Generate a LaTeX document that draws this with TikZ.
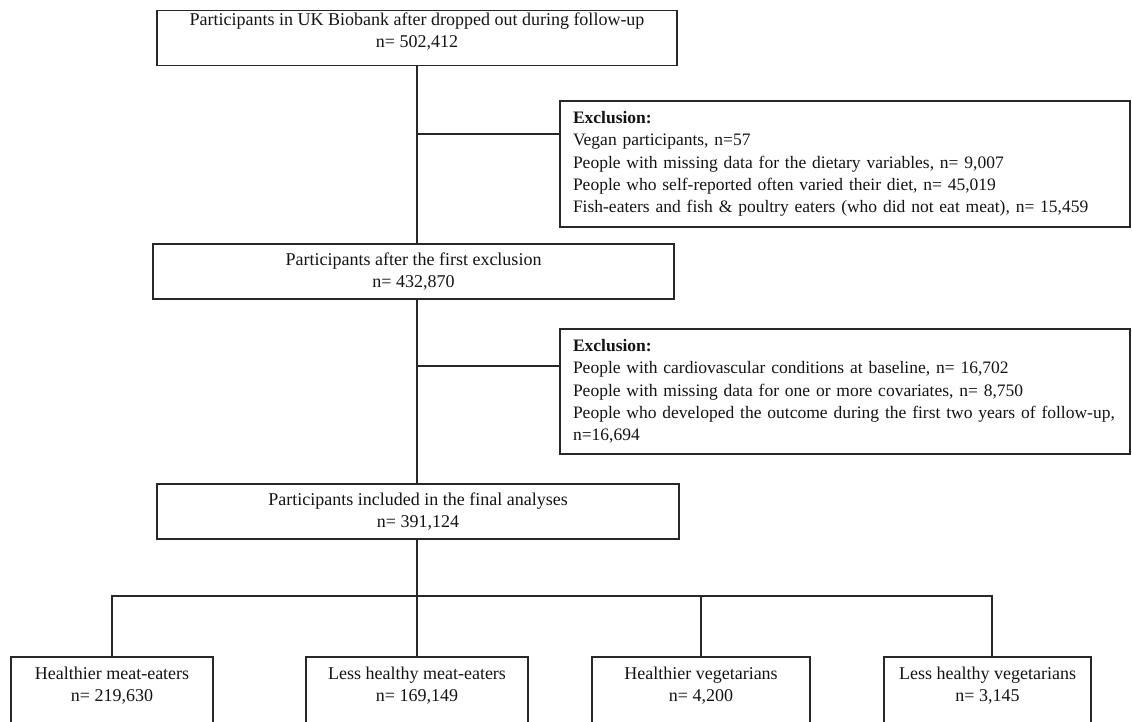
\documentclass[tikz,border=0pt]{standalone}
\usepackage{fontspec}
\setmainfont{Liberation Serif}
\definecolor{linec}{RGB}{40,40,40}
\definecolor{txtc}{RGB}{20,20,20}
\begin{document}
\begin{tikzpicture}[x=1pt,y=-1pt,
  box/.style={draw=linec, line width=1.3pt, rectangle, inner sep=0pt},
  ctxt/.style={font=\fontsize{18}{22}\selectfont, text=txtc, inner sep=0pt, align=center},
  exbox/.style={box, font=\fontsize{17.5}{22.3}\selectfont, text=txtc, align=left,
     inner xsep=13pt, inner ysep=0pt, text width=544pt, minimum width=570pt},
  conn/.style={draw=linec, line width=1.3pt}]
\useasboundingbox (0,0) rectangle (1132,722);
\clip (0,0) rectangle (1132,722);
\fill[white] (0,0) rectangle (1132,722);

% spine boxes
\node[box, minimum width=520pt, minimum height=55pt] (top) at (417,38.3) {};
\node[ctxt] (toptxt) at (417,31.7) {Participants in UK Biobank after dropped out during follow-up\\n= 502,412};

\node[box, ctxt, minimum width=521pt, minimum height=55pt] (box2) at (413.5,271.5)
  {Participants after the first exclusion\\n= 432,870};

\node[box, ctxt, minimum width=522pt, minimum height=55pt] (box3) at (418,511.5)
  {Participants included in the final analyses\\n= 391,124};

% exclusion boxes
\node[exbox, minimum height=126pt] (ex1) at (845,164)
  {\textbf{Exclusion:}\\
   \mbox{Vegan participants, n=57}\\
   \mbox{People with missing data for the dietary variables, n= 9,007}\\
   \mbox{People who self-reported often varied their diet, n= 45,019}\\
   \mbox{Fish-eaters and fish \& poultry eaters (who did not eat meat), n= 15,459}};

\node[exbox, minimum height=125pt] (ex2) at (845,391.5)
  {\textbf{Exclusion:}\\
   \mbox{People with cardiovascular conditions at baseline, n= 16,702}\\
   \mbox{People with missing data for one or more covariates, n= 8,750}\\
   \mbox{People who developed the outcome during the first two years of follow-up,}\\
   \mbox{n=16,694}};

% bottom boxes (cut off by the picture's lower edge)
\node[box, minimum width=202pt, minimum height=100pt] (bA) at (112,707) {};
\node[box, minimum width=222pt, minimum height=100pt] (bB) at (417,707) {};
\node[box, minimum width=218pt, minimum height=100pt] (bC) at (701,707) {};
\node[box, minimum width=207pt, minimum height=100pt] (bD) at (987.5,707) {};
\node[ctxt] (tA) at (bA.north |- 0,686) {Healthier meat-eaters\\n= 219,630};
\node[ctxt] (tB) at (bB.north |- 0,686) {Less healthy meat-eaters\\n= 169,149};
\node[ctxt] (tC) at (bC.north |- 0,686) {Healthier vegetarians\\n= 4,200};
\node[ctxt] (tD) at (bD.north |- 0,686) {Less healthy vegetarians\\n= 3,145};

% connectors
\coordinate (c1) at (top.south |- 0,134);
\coordinate (c2) at (top.south |- 0,366);
\coordinate (br) at (top.south |- 0,596);
\draw[conn] (top.south) -- (top.south |- box2.north);
\draw[conn] (c1) -- (c1 -| ex1.west);
\draw[conn] (box2.south -| top.south) -- (top.south |- box3.north);
\draw[conn] (c2) -- (c2 -| ex2.west);
\draw[conn] (box3.south -| top.south) -- (br);
\draw[conn] (br) -| (bA.north);
\draw[conn] (br) -- (br |- bB.north);
\draw[conn] (br) -| (bC.north);
\draw[conn] (br) -| ([xshift=4.5pt]bD.north);
\end{tikzpicture}
\end{document}
